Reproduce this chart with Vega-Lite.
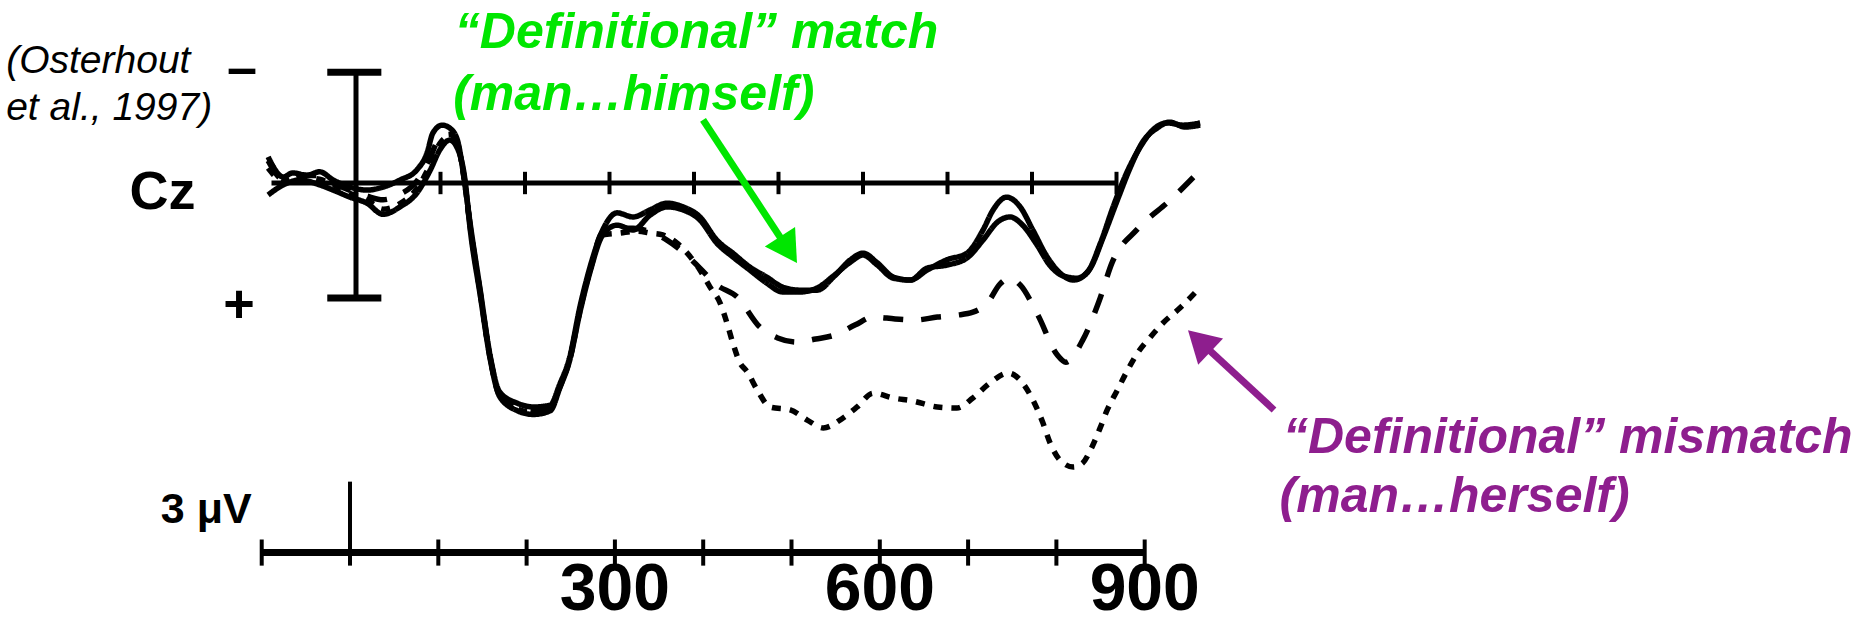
{
  "$schema": "https://vega.github.io/schema/vega-lite/v6.json",
  "width": 1872,
  "height": 625,
  "autosize": "none",
  "padding": 0,
  "background": "white",
  "config": {"view": {"stroke": null}},
  "datasets": {
    "erp": [
      {"c":"Definitional match","t":-104,"v":-0.70},{"c":"Definitional match","t":-86,"v":-0.16},{"c":"Definitional match","t":-75,"v":-0.27},{"c":"Definitional match","t":-58,"v":-0.21},{"c":"Definitional match","t":-43,"v":-0.30},{"c":"Definitional match","t":-27,"v":-0.08},{"c":"Definitional match","t":-7,"v":0.11},{"c":"Definitional match","t":13,"v":0.19},{"c":"Definitional match","t":32,"v":0.11},{"c":"Definitional match","t":52,"v":-0.08},{"c":"Definitional match","t":72,"v":-0.35},{"c":"Definitional match","t":84,"v":-0.80},{"c":"Definitional match","t":91,"v":-1.34},{"c":"Definitional match","t":102,"v":-1.55},{"c":"Definitional match","t":111,"v":-1.47},{"c":"Definitional match","t":120,"v":-1.15},{"c":"Definitional match","t":127,"v":-0.27},{"c":"Definitional match","t":135,"v":1.07},{"c":"Definitional match","t":147,"v":2.87},{"c":"Definitional match","t":159,"v":4.66},{"c":"Definitional match","t":170,"v":5.60},{"c":"Definitional match","t":191,"v":5.90},{"c":"Definitional match","t":210,"v":6.00},{"c":"Definitional match","t":230,"v":5.95},{"c":"Definitional match","t":241,"v":5.40},{"c":"Definitional match","t":253,"v":4.66},{"c":"Definitional match","t":265,"v":3.32},{"c":"Definitional match","t":277,"v":2.25},{"c":"Definitional match","t":292,"v":1.26},{"c":"Definitional match","t":309,"v":0.80},{"c":"Definitional match","t":328,"v":0.91},{"c":"Definitional match","t":348,"v":0.72},{"c":"Definitional match","t":368,"v":0.54},{"c":"Definitional match","t":387,"v":0.64},{"c":"Definitional match","t":407,"v":0.91},{"c":"Definitional match","t":427,"v":1.53},{"c":"Definitional match","t":446,"v":1.88},{"c":"Definitional match","t":466,"v":2.25},{"c":"Definitional match","t":486,"v":2.52},{"c":"Definitional match","t":505,"v":2.79},{"c":"Definitional match","t":525,"v":2.87},{"c":"Definitional match","t":546,"v":2.87},{"c":"Definitional match","t":565,"v":2.52},{"c":"Definitional match","t":585,"v":2.06},{"c":"Definitional match","t":600,"v":1.88},{"c":"Definitional match","t":617,"v":2.14},{"c":"Definitional match","t":636,"v":2.52},{"c":"Definitional match","t":656,"v":2.60},{"c":"Definitional match","t":676,"v":2.33},{"c":"Definitional match","t":699,"v":2.06},{"c":"Definitional match","t":723,"v":1.88},{"c":"Definitional match","t":742,"v":1.26},{"c":"Definitional match","t":754,"v":0.72},{"c":"Definitional match","t":770,"v":0.38},{"c":"Definitional match","t":786,"v":0.64},{"c":"Definitional match","t":801,"v":1.26},{"c":"Definitional match","t":818,"v":1.98},{"c":"Definitional match","t":833,"v":2.41},{"c":"Definitional match","t":849,"v":2.60},{"c":"Definitional match","t":865,"v":2.41},{"c":"Definitional match","t":881,"v":1.61},{"c":"Definitional match","t":896,"v":0.64},{"c":"Definitional match","t":912,"v":-0.27},{"c":"Definitional match","t":928,"v":-0.96},{"c":"Definitional match","t":943,"v":-1.42},{"c":"Definitional match","t":960,"v":-1.61},{"c":"Definitional match","t":979,"v":-1.55},{"c":"Definitional match","t":999,"v":-1.61},

      {"c":"Stereotypical match","t":-104,"v":0.32},{"c":"Stereotypical match","t":-86,"v":0.05},{"c":"Stereotypical match","t":-66,"v":-0.08},{"c":"Stereotypical match","t":-43,"v":0.05},{"c":"Stereotypical match","t":-27,"v":0.19},{"c":"Stereotypical match","t":-7,"v":0.38},{"c":"Stereotypical match","t":13,"v":0.54},{"c":"Stereotypical match","t":32,"v":0.84},{"c":"Stereotypical match","t":52,"v":0.64},{"c":"Stereotypical match","t":72,"v":0.27},{"c":"Stereotypical match","t":88,"v":-0.35},{"c":"Stereotypical match","t":99,"v":-0.88},{"c":"Stereotypical match","t":111,"v":-1.15},{"c":"Stereotypical match","t":121,"v":-0.88},{"c":"Stereotypical match","t":129,"v":-0.08},{"c":"Stereotypical match","t":135,"v":1.21},{"c":"Stereotypical match","t":147,"v":3.00},{"c":"Stereotypical match","t":159,"v":4.74},{"c":"Stereotypical match","t":170,"v":5.72},{"c":"Stereotypical match","t":191,"v":6.10},{"c":"Stereotypical match","t":210,"v":6.20},{"c":"Stereotypical match","t":230,"v":6.10},{"c":"Stereotypical match","t":241,"v":5.50},{"c":"Stereotypical match","t":253,"v":4.74},{"c":"Stereotypical match","t":265,"v":3.46},{"c":"Stereotypical match","t":277,"v":2.38},{"c":"Stereotypical match","t":292,"v":1.39},{"c":"Stereotypical match","t":309,"v":1.13},{"c":"Stereotypical match","t":328,"v":1.26},{"c":"Stereotypical match","t":348,"v":0.86},{"c":"Stereotypical match","t":368,"v":0.64},{"c":"Stereotypical match","t":387,"v":0.72},{"c":"Stereotypical match","t":407,"v":0.99},{"c":"Stereotypical match","t":427,"v":1.61},{"c":"Stereotypical match","t":446,"v":1.98},{"c":"Stereotypical match","t":466,"v":2.33},{"c":"Stereotypical match","t":486,"v":2.68},{"c":"Stereotypical match","t":505,"v":2.92},{"c":"Stereotypical match","t":525,"v":2.92},{"c":"Stereotypical match","t":546,"v":2.81},{"c":"Stereotypical match","t":565,"v":2.49},{"c":"Stereotypical match","t":585,"v":2.12},{"c":"Stereotypical match","t":600,"v":1.93},{"c":"Stereotypical match","t":617,"v":2.20},{"c":"Stereotypical match","t":636,"v":2.55},{"c":"Stereotypical match","t":656,"v":2.60},{"c":"Stereotypical match","t":676,"v":2.28},{"c":"Stereotypical match","t":699,"v":2.20},{"c":"Stereotypical match","t":723,"v":2.01},{"c":"Stereotypical match","t":742,"v":1.53},{"c":"Stereotypical match","t":759,"v":1.05},{"c":"Stereotypical match","t":774,"v":0.91},{"c":"Stereotypical match","t":789,"v":1.13},{"c":"Stereotypical match","t":806,"v":1.66},{"c":"Stereotypical match","t":821,"v":2.20},{"c":"Stereotypical match","t":837,"v":2.49},{"c":"Stereotypical match","t":853,"v":2.55},{"c":"Stereotypical match","t":869,"v":2.28},{"c":"Stereotypical match","t":884,"v":1.47},{"c":"Stereotypical match","t":901,"v":0.46},{"c":"Stereotypical match","t":916,"v":-0.40},{"c":"Stereotypical match","t":931,"v":-1.10},{"c":"Stereotypical match","t":948,"v":-1.47},{"c":"Stereotypical match","t":963,"v":-1.63},{"c":"Stereotypical match","t":981,"v":-1.50},{"c":"Stereotypical match","t":999,"v":-1.55},

      {"c":"Stereotypical mismatch","t":-104,"v":-0.60},{"c":"Stereotypical mismatch","t":-86,"v":-0.10},{"c":"Stereotypical mismatch","t":-66,"v":-0.20},{"c":"Stereotypical mismatch","t":-43,"v":-0.20},{"c":"Stereotypical mismatch","t":-27,"v":0.00},{"c":"Stereotypical mismatch","t":-7,"v":0.20},{"c":"Stereotypical mismatch","t":13,"v":0.35},{"c":"Stereotypical mismatch","t":32,"v":0.45},{"c":"Stereotypical mismatch","t":52,"v":0.30},{"c":"Stereotypical mismatch","t":72,"v":-0.05},{"c":"Stereotypical mismatch","t":86,"v":-0.60},{"c":"Stereotypical mismatch","t":99,"v":-1.20},{"c":"Stereotypical mismatch","t":111,"v":-1.30},{"c":"Stereotypical mismatch","t":121,"v":-1.00},{"c":"Stereotypical mismatch","t":128,"v":-0.15},{"c":"Stereotypical mismatch","t":135,"v":1.12},{"c":"Stereotypical mismatch","t":147,"v":2.92},{"c":"Stereotypical mismatch","t":159,"v":4.70},{"c":"Stereotypical mismatch","t":170,"v":5.65},{"c":"Stereotypical mismatch","t":191,"v":6.00},{"c":"Stereotypical mismatch","t":210,"v":6.10},{"c":"Stereotypical mismatch","t":230,"v":6.00},{"c":"Stereotypical mismatch","t":241,"v":5.45},{"c":"Stereotypical mismatch","t":253,"v":4.70},{"c":"Stereotypical mismatch","t":265,"v":3.40},{"c":"Stereotypical mismatch","t":277,"v":2.32},{"c":"Stereotypical mismatch","t":292,"v":1.31},{"c":"Stereotypical mismatch","t":309,"v":1.21},{"c":"Stereotypical mismatch","t":328,"v":1.21},{"c":"Stereotypical mismatch","t":348,"v":1.31},{"c":"Stereotypical mismatch","t":368,"v":1.53},{"c":"Stereotypical mismatch","t":387,"v":1.85},{"c":"Stereotypical mismatch","t":407,"v":2.28},{"c":"Stereotypical mismatch","t":427,"v":2.73},{"c":"Stereotypical mismatch","t":451,"v":3.05},{"c":"Stereotypical mismatch","t":478,"v":3.86},{"c":"Stereotypical mismatch","t":499,"v":4.15},{"c":"Stereotypical mismatch","t":522,"v":4.26},{"c":"Stereotypical mismatch","t":544,"v":4.18},{"c":"Stereotypical mismatch","t":567,"v":4.07},{"c":"Stereotypical mismatch","t":591,"v":3.80},{"c":"Stereotypical mismatch","t":612,"v":3.59},{"c":"Stereotypical mismatch","t":638,"v":3.64},{"c":"Stereotypical mismatch","t":662,"v":3.67},{"c":"Stereotypical mismatch","t":688,"v":3.59},{"c":"Stereotypical mismatch","t":711,"v":3.54},{"c":"Stereotypical mismatch","t":730,"v":3.46},{"c":"Stereotypical mismatch","t":748,"v":3.19},{"c":"Stereotypical mismatch","t":762,"v":2.71},{"c":"Stereotypical mismatch","t":774,"v":2.55},{"c":"Stereotypical mismatch","t":786,"v":2.73},{"c":"Stereotypical mismatch","t":807,"v":3.54},{"c":"Stereotypical mismatch","t":830,"v":4.61},{"c":"Stereotypical mismatch","t":840,"v":4.80},{"c":"Stereotypical mismatch","t":860,"v":4.21},{"c":"Stereotypical mismatch","t":879,"v":3.19},{"c":"Stereotypical mismatch","t":895,"v":2.12},{"c":"Stereotypical mismatch","t":925,"v":1.23},{"c":"Stereotypical mismatch","t":965,"v":0.43},{"c":"Stereotypical mismatch","t":996,"v":-0.27},

      {"c":"Definitional mismatch","t":-104,"v":-0.40},{"c":"Definitional mismatch","t":-86,"v":-0.05},{"c":"Definitional mismatch","t":-66,"v":-0.15},{"c":"Definitional mismatch","t":-43,"v":-0.10},{"c":"Definitional mismatch","t":-27,"v":0.05},{"c":"Definitional mismatch","t":-7,"v":0.28},{"c":"Definitional mismatch","t":13,"v":0.45},{"c":"Definitional mismatch","t":32,"v":0.70},{"c":"Definitional mismatch","t":52,"v":0.55},{"c":"Definitional mismatch","t":72,"v":0.15},{"c":"Definitional mismatch","t":87,"v":-0.45},{"c":"Definitional mismatch","t":99,"v":-1.05},{"c":"Definitional mismatch","t":111,"v":-1.25},{"c":"Definitional mismatch","t":121,"v":-0.95},{"c":"Definitional mismatch","t":128,"v":-0.10},{"c":"Definitional mismatch","t":135,"v":1.15},{"c":"Definitional mismatch","t":147,"v":2.95},{"c":"Definitional mismatch","t":159,"v":4.72},{"c":"Definitional mismatch","t":170,"v":5.70},{"c":"Definitional mismatch","t":191,"v":6.05},{"c":"Definitional mismatch","t":210,"v":6.15},{"c":"Definitional mismatch","t":230,"v":6.05},{"c":"Definitional mismatch","t":241,"v":5.48},{"c":"Definitional mismatch","t":253,"v":4.72},{"c":"Definitional mismatch","t":265,"v":3.42},{"c":"Definitional mismatch","t":277,"v":2.34},{"c":"Definitional mismatch","t":292,"v":1.39},{"c":"Definitional mismatch","t":312,"v":1.34},{"c":"Definitional mismatch","t":333,"v":1.29},{"c":"Definitional mismatch","t":348,"v":1.34},{"c":"Definitional mismatch","t":363,"v":1.39},{"c":"Definitional mismatch","t":380,"v":1.61},{"c":"Definitional mismatch","t":392,"v":1.88},{"c":"Definitional mismatch","t":407,"v":2.33},{"c":"Definitional mismatch","t":419,"v":2.79},{"c":"Definitional mismatch","t":431,"v":3.22},{"c":"Definitional mismatch","t":439,"v":3.75},{"c":"Definitional mismatch","t":446,"v":4.29},{"c":"Definitional mismatch","t":454,"v":4.80},{"c":"Definitional mismatch","t":463,"v":5.06},{"c":"Definitional mismatch","t":475,"v":5.55},{"c":"Definitional mismatch","t":490,"v":6.00},{"c":"Definitional mismatch","t":514,"v":6.08},{"c":"Definitional mismatch","t":534,"v":6.35},{"c":"Definitional mismatch","t":553,"v":6.56},{"c":"Definitional mismatch","t":576,"v":6.30},{"c":"Definitional mismatch","t":593,"v":6.00},{"c":"Definitional mismatch","t":612,"v":5.63},{"c":"Definitional mismatch","t":636,"v":5.76},{"c":"Definitional mismatch","t":659,"v":5.84},{"c":"Definitional mismatch","t":688,"v":6.00},{"c":"Definitional mismatch","t":711,"v":6.03},{"c":"Definitional mismatch","t":730,"v":5.76},{"c":"Definitional mismatch","t":750,"v":5.36},{"c":"Definitional mismatch","t":772,"v":5.09},{"c":"Definitional mismatch","t":789,"v":5.36},{"c":"Definitional mismatch","t":801,"v":5.81},{"c":"Definitional mismatch","t":813,"v":6.43},{"c":"Definitional mismatch","t":821,"v":6.94},{"c":"Definitional mismatch","t":833,"v":7.42},{"c":"Definitional mismatch","t":849,"v":7.61},{"c":"Definitional mismatch","t":860,"v":7.50},{"c":"Definitional mismatch","t":871,"v":7.07},{"c":"Definitional mismatch","t":881,"v":6.54},{"c":"Definitional mismatch","t":889,"v":6.08},{"c":"Definitional mismatch","t":901,"v":5.55},{"c":"Definitional mismatch","t":912,"v":5.06},{"c":"Definitional mismatch","t":925,"v":4.55},{"c":"Definitional mismatch","t":940,"v":4.13},{"c":"Definitional mismatch","t":955,"v":3.75},{"c":"Definitional mismatch","t":975,"v":3.35},{"c":"Definitional mismatch","t":996,"v":2.87}
    ],
    "baseline": [{"t": -100, "t2": 900}],
    "ticks100": [{"t":100},{"t":200},{"t":300},{"t":400},{"t":500},{"t":600},{"t":700},{"t":800},{"t":900}],
    "calib": [{"t": 0, "lo": -2.97, "hi": 3.08}],
    "caps": [{"t": -34, "t2": 30, "v": -2.97}, {"t": -34, "t2": 30, "v": 3.08}],
    "notes": [
      {"g":"cite","text":"(Osterhout","t":-414,"v":-2.95},
      {"g":"cite","text":"et al., 1997)","t":-414,"v":-1.69},
      {"g":"sign","text":"–","t":-135,"v":-2.60},
      {"g":"sign","text":"+","t":-138.5,"v":3.72},
      {"g":"channel","text":"Cz","t":-268,"v":0.70},
      {"g":"unit","text":"3 μV","t":-231,"v":9.11},
      {"g":"green","text":"“Definitional” match","t":117,"v":-3.62},
      {"g":"green","text":"(man…himself)","t":115,"v":-1.96},
      {"g":"purple","text":"“Definitional” mismatch","t":1097,"v":7.23},
      {"g":"purple","text":"(man…herself)","t":1093,"v":8.81}
    ],
    "arrows": [
      {"g":"green","t":410.7,"v":-1.69,"t2":511.8,"v2":1.79},
      {"g":"purple","t":1086.4,"v":6.08,"t2":998.0,"v2":4.23}
    ],
    "xaxis": [{"t": -100, "t2": 900}],
    "xticks": [{"t":-100},{"t":0},{"t":100},{"t":200},{"t":300},{"t":400},{"t":500},{"t":600},{"t":700},{"t":800},{"t":900}],
    "xlabels": [{"t":300,"label":"300"},{"t":600,"label":"600"},{"t":900,"label":"900"}]
  },
  "resolve": {"scale": {"x": "independent"}},
  "layer": [
    {
      "layer": [
        {
          "data": {"name": "baseline"},
          "mark": {"type": "rule", "strokeWidth": 5, "color": "black"},
          "encoding": {
            "x": {"field": "t", "type": "quantitative", "axis": null, "scale": {"domain": [-421.3, 1794.08], "nice": false, "zero": false}},
            "x2": {"field": "t2"},
            "y": {"datum": 0, "type": "quantitative", "axis": null, "scale": {"domain": [-4.9022, 11.8403], "reverse": true, "nice": false, "zero": false}}
          }
        },
        {
          "data": {"name": "ticks100"},
          "mark": {"type": "rule", "strokeWidth": 4, "color": "black"},
          "encoding": {
            "x": {"field": "t", "type": "quantitative", "axis": null, "scale": {"domain": [-421.3, 1794.08], "nice": false, "zero": false}},
            "y": {"datum": -0.3, "type": "quantitative", "axis": null, "scale": {"domain": [-4.9022, 11.8403], "reverse": true, "nice": false, "zero": false}},
            "y2": {"datum": 0.3}
          }
        },
        {
          "data": {"name": "calib"},
          "mark": {"type": "rule", "strokeWidth": 5, "color": "black"},
          "encoding": {
            "x": {"field": "t", "type": "quantitative", "axis": null, "scale": {"domain": [-421.3, 1794.08], "nice": false, "zero": false}},
            "y": {"field": "lo", "type": "quantitative", "axis": null, "scale": {"domain": [-4.9022, 11.8403], "reverse": true, "nice": false, "zero": false}},
            "y2": {"field": "hi"}
          }
        },
        {
          "data": {"name": "caps"},
          "mark": {"type": "rule", "strokeWidth": 7, "color": "black"},
          "encoding": {
            "x": {"field": "t", "type": "quantitative", "axis": null, "scale": {"domain": [-421.3, 1794.08], "nice": false, "zero": false}},
            "x2": {"field": "t2"},
            "y": {"field": "v", "type": "quantitative", "axis": null, "scale": {"domain": [-4.9022, 11.8403], "reverse": true, "nice": false, "zero": false}}
          }
        },
        {
          "data": {"name": "erp"},
          "mark": {"type": "line", "strokeWidth": 5.5, "color": "black", "interpolate": "monotone", "strokeCap": "butt", "strokeJoin": "round"},
          "encoding": {
            "x": {"field": "t", "type": "quantitative", "axis": null, "scale": {"domain": [-421.3, 1794.08], "nice": false, "zero": false}},
            "y": {"field": "v", "type": "quantitative", "axis": null, "scale": {"domain": [-4.9022, 11.8403], "reverse": true, "nice": false, "zero": false}},
            "detail": {"field": "c"},
            "strokeDash": {"field": "c", "type": "nominal", "legend": null, "scale": {"domain": ["Definitional match", "Stereotypical match", "Stereotypical mismatch", "Definitional mismatch"], "range": [[1, 0], [1, 0], [20, 18], [9, 9]]}}
          }
        },
        {
          "data": {"name": "arrows"},
          "transform": [{"filter": "datum.g === 'green'"}],
          "mark": {"type": "rule", "strokeWidth": 7, "color": "#00E600"},
          "encoding": {
            "x": {"field": "t", "type": "quantitative", "axis": null, "scale": {"domain": [-421.3, 1794.08], "nice": false, "zero": false}},
            "y": {"field": "v", "type": "quantitative", "axis": null, "scale": {"domain": [-4.9022, 11.8403], "reverse": true, "nice": false, "zero": false}},
            "x2": {"field": "t2"},
            "y2": {"field": "v2"}
          }
        },
        {
          "data": {"name": "arrows"},
          "transform": [{"filter": "datum.g === 'green'"}],
          "mark": {"type": "point", "shape": "triangle-up", "filled": true, "opacity": 1, "size": 1300, "angle": 147, "color": "#00E600"},
          "encoding": {
            "x": {"field": "t2", "type": "quantitative", "axis": null, "scale": {"domain": [-421.3, 1794.08], "nice": false, "zero": false}},
            "y": {"field": "v2", "type": "quantitative", "axis": null, "scale": {"domain": [-4.9022, 11.8403], "reverse": true, "nice": false, "zero": false}}
          }
        },
        {
          "data": {"name": "arrows"},
          "transform": [{"filter": "datum.g === 'purple'"}],
          "mark": {"type": "rule", "strokeWidth": 7, "color": "#8E1E8E"},
          "encoding": {
            "x": {"field": "t", "type": "quantitative", "axis": null, "scale": {"domain": [-421.3, 1794.08], "nice": false, "zero": false}},
            "y": {"field": "v", "type": "quantitative", "axis": null, "scale": {"domain": [-4.9022, 11.8403], "reverse": true, "nice": false, "zero": false}},
            "x2": {"field": "t2"},
            "y2": {"field": "v2"}
          }
        },
        {
          "data": {"name": "arrows"},
          "transform": [{"filter": "datum.g === 'purple'"}],
          "mark": {"type": "point", "shape": "triangle-up", "filled": true, "opacity": 1, "size": 1300, "angle": 313.6, "color": "#8E1E8E"},
          "encoding": {
            "x": {"field": "t2", "type": "quantitative", "axis": null, "scale": {"domain": [-421.3, 1794.08], "nice": false, "zero": false}},
            "y": {"field": "v2", "type": "quantitative", "axis": null, "scale": {"domain": [-4.9022, 11.8403], "reverse": true, "nice": false, "zero": false}}
          }
        },
        {
          "data": {"name": "notes"},
          "transform": [{"filter": "datum.g === 'cite'"}],
          "mark": {"type": "text", "align": "left", "baseline": "alphabetic", "font": "Liberation Sans, Arial, sans-serif", "fontStyle": "italic", "fontSize": 39, "color": "black"},
          "encoding": {
            "x": {"field": "t", "type": "quantitative", "axis": null, "scale": {"domain": [-421.3, 1794.08], "nice": false, "zero": false}},
            "y": {"field": "v", "type": "quantitative", "axis": null, "scale": {"domain": [-4.9022, 11.8403], "reverse": true, "nice": false, "zero": false}},
            "text": {"field": "text"}
          }
        },
        {
          "data": {"name": "notes"},
          "transform": [{"filter": "datum.g === 'sign'"}],
          "mark": {"type": "text", "align": "center", "baseline": "alphabetic", "font": "Liberation Sans, Arial, sans-serif", "fontWeight": "bold", "fontSize": 54, "color": "black"},
          "encoding": {
            "x": {"field": "t", "type": "quantitative", "axis": null, "scale": {"domain": [-421.3, 1794.08], "nice": false, "zero": false}},
            "y": {"field": "v", "type": "quantitative", "axis": null, "scale": {"domain": [-4.9022, 11.8403], "reverse": true, "nice": false, "zero": false}},
            "text": {"field": "text"}
          }
        },
        {
          "data": {"name": "notes"},
          "transform": [{"filter": "datum.g === 'channel'"}],
          "mark": {"type": "text", "align": "left", "baseline": "alphabetic", "font": "Liberation Sans, Arial, sans-serif", "fontWeight": "bold", "fontSize": 54, "color": "black"},
          "encoding": {
            "x": {"field": "t", "type": "quantitative", "axis": null, "scale": {"domain": [-421.3, 1794.08], "nice": false, "zero": false}},
            "y": {"field": "v", "type": "quantitative", "axis": null, "scale": {"domain": [-4.9022, 11.8403], "reverse": true, "nice": false, "zero": false}},
            "text": {"field": "text"}
          }
        },
        {
          "data": {"name": "notes"},
          "transform": [{"filter": "datum.g === 'unit'"}],
          "mark": {"type": "text", "align": "left", "baseline": "alphabetic", "font": "Liberation Sans, Arial, sans-serif", "fontWeight": "bold", "fontSize": 43, "color": "black"},
          "encoding": {
            "x": {"field": "t", "type": "quantitative", "axis": null, "scale": {"domain": [-421.3, 1794.08], "nice": false, "zero": false}},
            "y": {"field": "v", "type": "quantitative", "axis": null, "scale": {"domain": [-4.9022, 11.8403], "reverse": true, "nice": false, "zero": false}},
            "text": {"field": "text"}
          }
        },
        {
          "data": {"name": "notes"},
          "transform": [{"filter": "datum.g === 'green'"}],
          "mark": {"type": "text", "align": "left", "baseline": "alphabetic", "font": "Liberation Sans, Arial, sans-serif", "fontWeight": "bold", "fontStyle": "italic", "fontSize": 50, "color": "#00E600"},
          "encoding": {
            "x": {"field": "t", "type": "quantitative", "axis": null, "scale": {"domain": [-421.3, 1794.08], "nice": false, "zero": false}},
            "y": {"field": "v", "type": "quantitative", "axis": null, "scale": {"domain": [-4.9022, 11.8403], "reverse": true, "nice": false, "zero": false}},
            "text": {"field": "text"}
          }
        },
        {
          "data": {"name": "notes"},
          "transform": [{"filter": "datum.g === 'purple'"}],
          "mark": {"type": "text", "align": "left", "baseline": "alphabetic", "font": "Liberation Sans, Arial, sans-serif", "fontWeight": "bold", "fontStyle": "italic", "fontSize": 50, "color": "#8E1E8E"},
          "encoding": {
            "x": {"field": "t", "type": "quantitative", "axis": null, "scale": {"domain": [-421.3, 1794.08], "nice": false, "zero": false}},
            "y": {"field": "v", "type": "quantitative", "axis": null, "scale": {"domain": [-4.9022, 11.8403], "reverse": true, "nice": false, "zero": false}},
            "text": {"field": "text"}
          }
        }
      ]
    },
    {
      "layer": [
        {
          "data": {"name": "xaxis"},
          "mark": {"type": "rule", "strokeWidth": 7, "color": "black"},
          "encoding": {
            "x": {"field": "t", "type": "quantitative", "axis": null, "scale": {"domain": [-396.4, 1723.7], "nice": false, "zero": false}},
            "x2": {"field": "t2"},
            "y": {"datum": 9.9, "type": "quantitative", "axis": null, "scale": {"domain": [-4.9022, 11.8403], "reverse": true, "nice": false, "zero": false}}
          }
        },
        {
          "data": {"name": "xticks"},
          "mark": {"type": "rule", "strokeWidth": 4, "color": "black"},
          "encoding": {
            "x": {"field": "t", "type": "quantitative", "axis": null, "scale": {"domain": [-396.4, 1723.7], "nice": false, "zero": false}},
            "y": {"datum": 9.55, "type": "quantitative", "axis": null, "scale": {"domain": [-4.9022, 11.8403], "reverse": true, "nice": false, "zero": false}},
            "y2": {"datum": 10.25}
          }
        },
        {
          "data": {"name": "xticks"},
          "transform": [{"filter": "datum.t === 0"}],
          "mark": {"type": "rule", "strokeWidth": 4, "color": "black"},
          "encoding": {
            "x": {"field": "t", "type": "quantitative", "axis": null, "scale": {"domain": [-396.4, 1723.7], "nice": false, "zero": false}},
            "y": {"datum": 8.0, "type": "quantitative", "axis": null, "scale": {"domain": [-4.9022, 11.8403], "reverse": true, "nice": false, "zero": false}},
            "y2": {"datum": 9.9}
          }
        },
        {
          "data": {"name": "xlabels"},
          "mark": {"type": "text", "align": "center", "baseline": "bottom", "font": "Liberation Sans, Arial, sans-serif", "fontWeight": "bold", "fontSize": 66, "color": "black"},
          "encoding": {
            "x": {"field": "t", "type": "quantitative", "axis": null, "scale": {"domain": [-396.4, 1723.7], "nice": false, "zero": false}},
            "y": {"datum": 11.82, "type": "quantitative", "axis": null, "scale": {"domain": [-4.9022, 11.8403], "reverse": true, "nice": false, "zero": false}},
            "text": {"field": "label"}
          }
        }
      ]
    }
  ]
}
